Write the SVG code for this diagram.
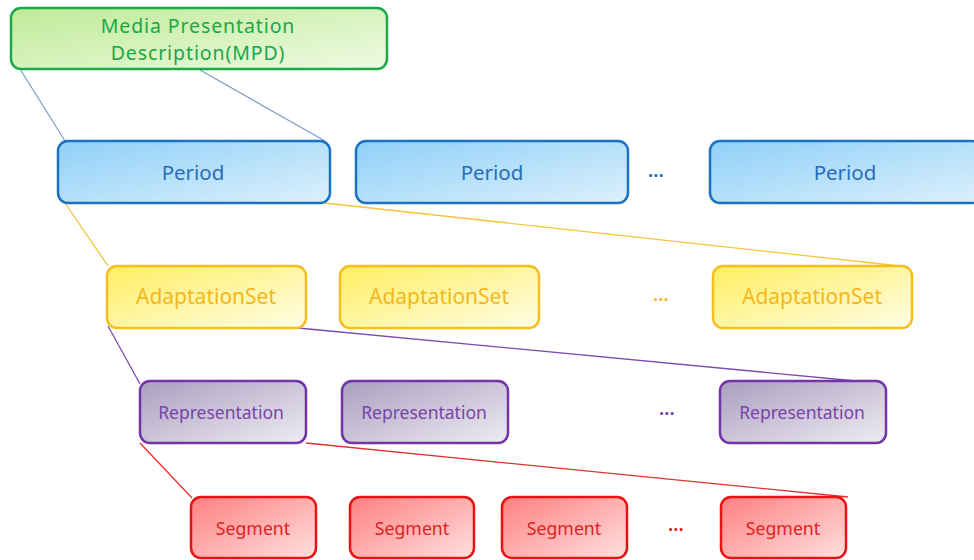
<svg xmlns="http://www.w3.org/2000/svg" width="974" height="560" viewBox="0 0 974 560">
  <defs>
    <linearGradient id="gGreen" x1="0" y1="0" x2="1" y2="1">
      <stop offset="0" stop-color="#bfeb98"/>
      <stop offset="1" stop-color="#eefae2"/>
    </linearGradient>
    <linearGradient id="gBlue" x1="0" y1="0" x2="1" y2="1">
      <stop offset="0" stop-color="#8fd0f8"/>
      <stop offset="1" stop-color="#dcf0fc"/>
    </linearGradient>
    <linearGradient id="gYellow" x1="0" y1="0" x2="1" y2="1">
      <stop offset="0" stop-color="#ffee60"/>
      <stop offset="1" stop-color="#fffde6"/>
    </linearGradient>
    <linearGradient id="gPurple" x1="0" y1="0" x2="1" y2="1">
      <stop offset="0" stop-color="#a99fbf"/>
      <stop offset="1" stop-color="#efecf3"/>
    </linearGradient>
    <linearGradient id="gRed" x1="0" y1="0" x2="1" y2="1">
      <stop offset="0" stop-color="#ff7f7f"/>
      <stop offset="1" stop-color="#ffe0e0"/>
    </linearGradient>
  </defs>
  <style>
    text { font-family: "Noto Sans", "Open Sans", sans-serif; text-anchor: middle; dominant-baseline: central; }
    .box { stroke-width: 2.5; }
    .mpd rect { fill: url(#gGreen); stroke: #1aaa48; }
    .mpd text { fill: #1aa845; font-size: 19.5px; letter-spacing: 0.9px; }
    .period rect { fill: url(#gBlue); stroke: #1a72c0; }
    .period text { fill: #2a6cb8; font-size: 20.5px; }
    .aset rect { fill: url(#gYellow); stroke: #f5bf22; }
    .aset text { fill: #f2b81e; font-size: 21px; }
    .rep rect { fill: url(#gPurple); stroke: #7234a6; }
    .rep text { fill: #7844a8; font-size: 17.5px; }
    .seg rect { fill: url(#gRed); stroke: #e61414; }
    .seg text { fill: #e02222; font-size: 17.7px; }
    .dots { font-size: 19px; font-weight: 600; }
    .links line { stroke-width: 1.3; fill: none; }
    .l-blue { stroke: #7f9fcc; }
    .l-yellow { stroke: #f5c43a; }
    .l-purple { stroke: #7a4aac; }
    .l-red { stroke: #e43030; }
  </style>

  <!-- connectors between hierarchy levels -->
  <g id="connectors" class="links">
    <line class="l-blue" x1="20" y1="69" x2="65" y2="141"/>
    <line class="l-blue" x1="200" y1="70" x2="325" y2="141"/>
    <line class="l-yellow" x1="65" y1="203" x2="108" y2="266"/>
    <line class="l-yellow" x1="325" y1="203" x2="900" y2="266"/>
    <line class="l-purple" x1="108" y1="326" x2="140" y2="384"/>
    <line class="l-purple" x1="298" y1="328" x2="856" y2="381"/>
    <line class="l-red" x1="140" y1="443" x2="192" y2="498"/>
    <line class="l-red" x1="306" y1="443" x2="848" y2="497"/>
  </g>

  <!-- MPD root -->
  <g id="mpd" class="mpd">
    <rect class="box" x="11" y="8" width="376" height="61" rx="10"/>
    <text x="198" y="25">Media Presentation</text>
    <text x="198" y="52.5">Description(MPD)</text>
  </g>

  <!-- Periods -->
  <g id="period1" class="period">
    <rect class="box" x="58" y="141" width="272" height="62" rx="10"/>
    <text x="193" y="172">Period</text>
  </g>
  <g id="period2" class="period">
    <rect class="box" x="356" y="141" width="272" height="62" rx="10"/>
    <text x="492" y="172">Period</text>
  </g>
  <g id="period3" class="period">
    <rect class="box" x="710" y="141" width="272" height="62" rx="10"/>
    <text x="845" y="172">Period</text>
  </g>
  <text class="dots" x="656" y="170" fill="#2a6cb8">…</text>

  <!-- Adaptation sets -->
  <g id="aset1" class="aset">
    <rect class="box" x="107" y="266" width="199" height="62" rx="10"/>
    <text x="206" y="296">AdaptationSet</text>
  </g>
  <g id="aset2" class="aset">
    <rect class="box" x="340" y="266" width="199" height="62" rx="10"/>
    <text x="439" y="296">AdaptationSet</text>
  </g>
  <g id="aset3" class="aset">
    <rect class="box" x="713" y="266" width="199" height="62" rx="10"/>
    <text x="812" y="296">AdaptationSet</text>
  </g>
  <text class="dots" x="661" y="294" fill="#f2b81e">…</text>

  <!-- Representations -->
  <g id="rep1" class="rep">
    <rect class="box" x="140" y="381" width="166" height="62" rx="10"/>
    <text x="221" y="412">Representation</text>
  </g>
  <g id="rep2" class="rep">
    <rect class="box" x="342" y="381" width="166" height="62" rx="10"/>
    <text x="424" y="412">Representation</text>
  </g>
  <g id="rep3" class="rep">
    <rect class="box" x="720" y="381" width="166" height="62" rx="10"/>
    <text x="802" y="412">Representation</text>
  </g>
  <text class="dots" x="667" y="408" fill="#7844a8">…</text>

  <!-- Segments -->
  <g id="seg1" class="seg">
    <rect class="box" x="191" y="497" width="125" height="61" rx="10"/>
    <text x="253" y="528">Segment</text>
  </g>
  <g id="seg2" class="seg">
    <rect class="box" x="350" y="497" width="124" height="61" rx="10"/>
    <text x="412" y="528">Segment</text>
  </g>
  <g id="seg3" class="seg">
    <rect class="box" x="502" y="497" width="125" height="61" rx="10"/>
    <text x="564" y="528">Segment</text>
  </g>
  <g id="seg4" class="seg">
    <rect class="box" x="721" y="497" width="125" height="61" rx="10"/>
    <text x="783" y="528">Segment</text>
  </g>
  <text class="dots" x="676" y="524" fill="#e02222">…</text>
</svg>
